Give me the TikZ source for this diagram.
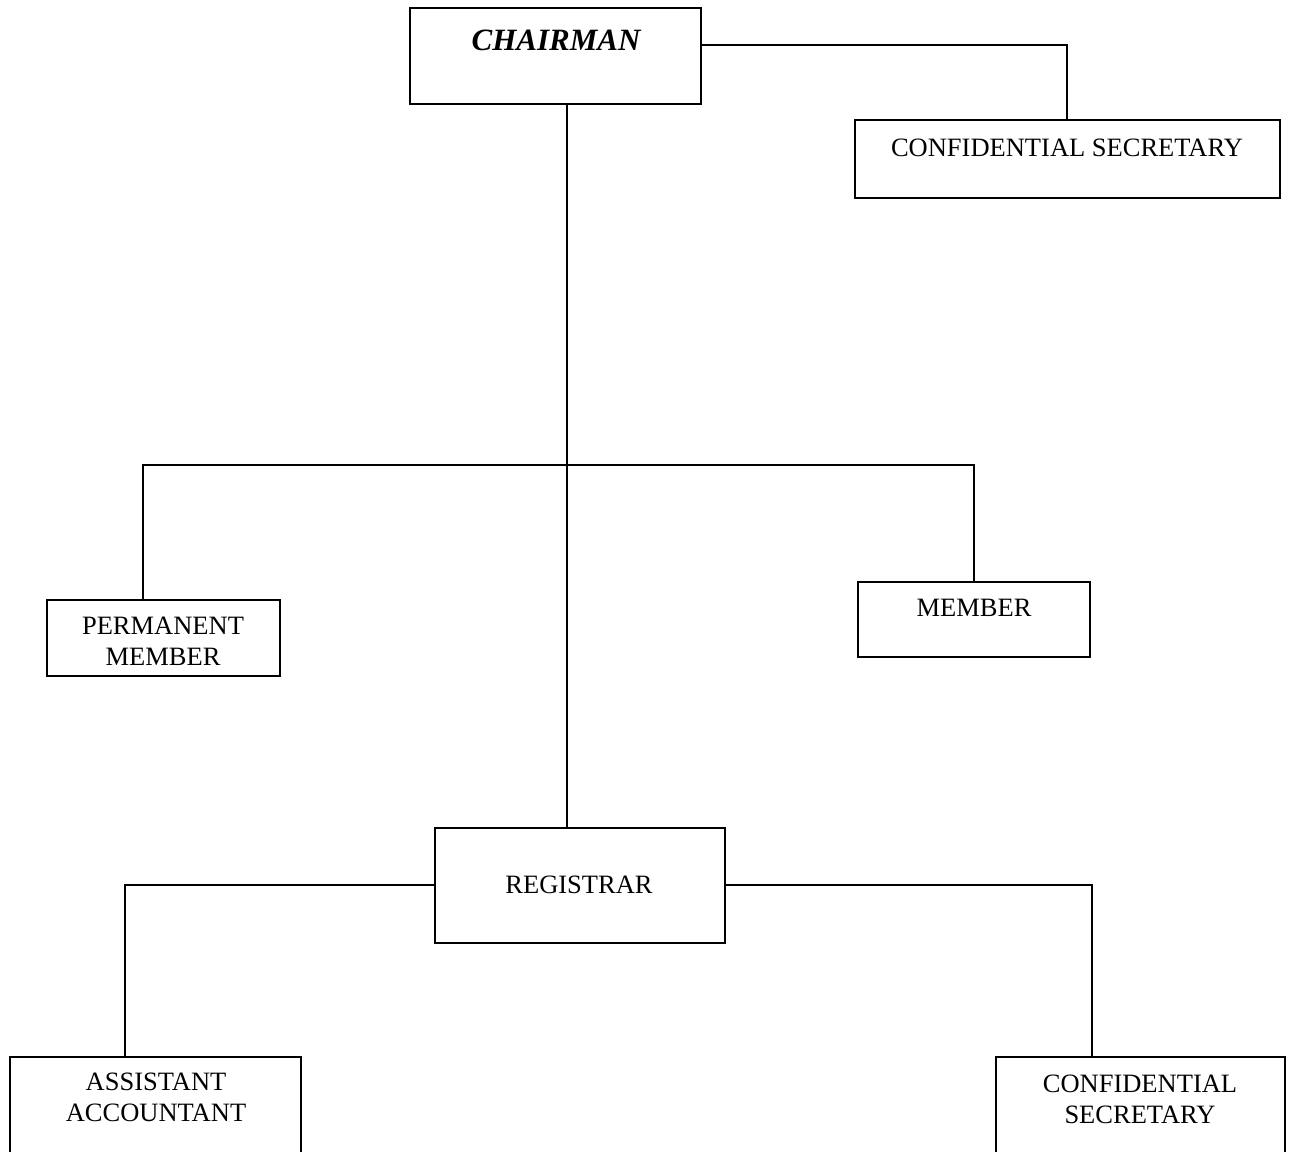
\documentclass[tikz,border=0pt]{standalone}
\usepackage{fontspec}
\setmainfont{Liberation Serif}
\begin{document}
\begin{tikzpicture}[x=1pt,y=-1pt,
  box/.style={draw=black, line width=1.6pt, inner sep=0pt},
  txt/.style={font=\fontsize{26.5}{31}\selectfont, align=center, inner sep=0pt},
  conn/.style={draw=black, line width=1.6pt}]
\useasboundingbox (0,0) rectangle (1295,1151);
% boxes
\node[box, minimum width=291pt, minimum height=96pt] (chair) at (555.5,56) {};
\node[box, minimum width=425pt, minimum height=78pt] (cs1) at (1067.5,159) {};
\node[box, minimum width=233pt, minimum height=76pt] (pm) at (163.5,638) {};
\node[box, minimum width=232pt, minimum height=75pt] (mem) at (974,619.5) {};
\node[box, minimum width=290pt, minimum height=115pt] (reg) at (580,885.5) {};
\node[box, minimum width=291pt, minimum height=100pt] (aa) at (155.5,1107) {};
\node[box, minimum width=289pt, minimum height=100pt] (cs2) at (1140.5,1107) {};
% texts
\node[txt, font=\fontsize{31}{36}\selectfont\bfseries\itshape] (tchair) at (556,40) {CHAIRMAN};
\node[txt] (tcs1) at (1067,148) {CONFIDENTIAL SECRETARY};
\node[txt] (tpm) at (163,641) {PERMANENT\\MEMBER};
\node[txt] (tmem) at (974,608) {MEMBER};
\node[txt] (treg) at (579,885) {REGISTRAR};
\node[txt] (taa) at (156,1097) {ASSISTANT\\ACCOUNTANT};
\node[txt] (tcs2) at (1140,1099) {CONFIDENTIAL\\SECRETARY};
% connectors
\coordinate (hub) at (567,465);
\draw[conn] (chair.east |- 0,45) -| (cs1.north -| 1067,0);
\draw[conn] (chair.south -| hub) -- (reg.north -| hub);
\draw[conn] (pm.north -| 143,0) |- (hub) -| (mem.north);
\draw[conn] (reg.west |- 0,885) -| (aa.north -| 125,0);
\draw[conn] (reg.east |- 0,885) -| (cs2.north -| 1092,0);
\end{tikzpicture}
\end{document}
